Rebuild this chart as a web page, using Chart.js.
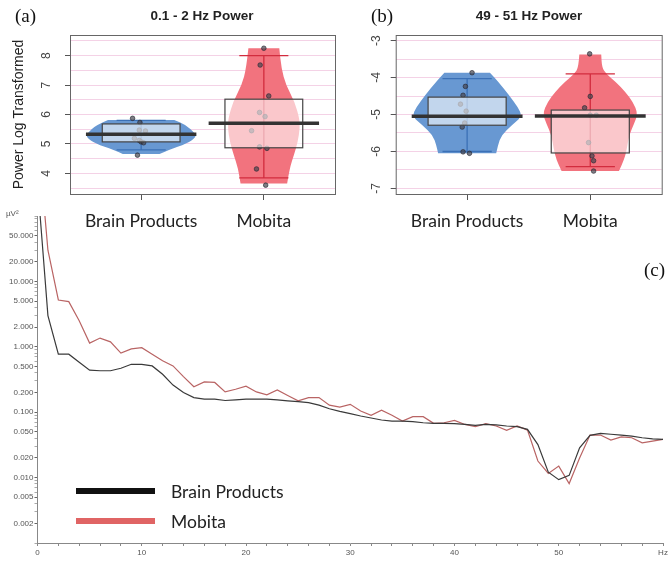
<!DOCTYPE html>
<html lang="en">
<head>
<meta charset="UTF-8">
<title>Power comparison - Brain Products vs Mobita</title>
<script src="https://cdn.jsdelivr.net/npm/chart.js"></script>
<style>
    body {
        margin: 0;
        background: #fff;
        font-family: "Liberation Sans", Arial, sans-serif;
    }
    #page {
        position: relative;
        width: 671px;
        height: 563px;
        overflow: hidden;
        background: #fff;
    }
    canvas {
        position: absolute;
    }
    .tag {
        position: absolute;
        font-family: "Liberation Serif", "Times New Roman", serif;
        font-size: 19px;
        color: #111;
        line-height: 1;
    }
    .title {
        position: absolute;
        font-weight: bold;
        font-size: 13.5px;
        color: #222;
        line-height: 1;
        white-space: nowrap;
        transform: translateX(-50%);
    }
    .legbar {
        position: absolute;
        width: 79px;
        height: 6px;
    }
    .legtxt {
        position: absolute;
        font-family: Lato, "Open Sans", sans-serif;
        font-size: 17.5px;
        color: #222;
        line-height: 1;
    }
    .unit {
        position: absolute;
        font-size: 8px;
        color: #555;
    }
</style>
</head>
<body>
<div id="page">
    <canvas id="chartC" width="671" height="363" style="left:0;top:200px;"></canvas>
    <canvas id="chartA" width="340" height="235" style="left:0;top:0;"></canvas>
    <canvas id="chartB" width="341" height="235" style="left:330px;top:0;"></canvas>

    <div class="tag" style="left:15px;top:6px;">(a)</div>
    <div class="tag" style="left:371px;top:6px;">(b)</div>
    <div class="tag" style="left:644px;top:260px;">(c)</div>
    <div class="title" style="left:202px;top:9px;">0.1 - 2 Hz Power</div>
    <div class="title" style="left:529px;top:9px;">49 - 51 Hz Power</div>
    <div class="unit" style="left:6px;top:209px;">µV²</div>

    <div class="legbar" style="left:76px;top:488px;background:#111;"></div>
    <div class="legtxt" style="left:171px;top:483px;">Brain Products</div>
    <div class="legbar" style="left:76px;top:518px;background:#e06464;"></div>
    <div class="legtxt" style="left:171px;top:513px;">Mobita</div>
</div>

<script>
    // ---- data ----
    const groups = ['Brain Products', 'Mobita'];

    // panel (a) 0.1 - 2 Hz, violin outlines (value levels and half widths in x units)
    const aBpLevels = [4.66, 4.79, 5.02, 5.22, 5.36, 5.64, 5.81];
    const aBpWidths = [0.15, 0.22, 0.375, 0.445, 0.44, 0.367, 0.27];
    const aMoLevels = [3.66, 4.17, 4.62, 5.07, 5.53, 5.87, 6.44, 7.0, 7.57, 8.25];
    const aMoWidths = [0.19, 0.21, 0.245, 0.277, 0.293, 0.29, 0.25, 0.18, 0.143, 0.126];
    // [lower whisker, q1, median, q3, upper whisker]
    const aBpBox = [4.8, 5.07, 5.33, 5.68, 5.8];
    const aMoBox = [3.85, 4.87, 5.70, 6.52, 8.0];
    const aBpDots = [5.87, 5.73, 5.47, 5.44, 5.19, 5.12, 5.07, 5.04, 4.62];
    const aBpJitter = [-0.07, -0.01, -0.015, 0.035, -0.055, -0.015, 0, 0.02, -0.03];
    const aMoDots = [8.25, 7.68, 6.63, 6.07, 5.93, 5.45, 4.9, 4.85, 4.15, 3.6];
    const aMoJitter = [0, -0.03, 0.04, -0.035, 0.01, -0.1, -0.035, 0.025, -0.06, 0.015];
    const aGrid = [3.5, 4, 4.5, 5, 5.5, 6, 6.5, 7, 7.5, 8, 8.5];

    // panel (b) 49 - 51 Hz
    const bBpLevels = [-6.05, -5.83, -5.56, -5.29, -5.05, -4.80, -4.48, -4.12, -3.87];
    const bBpWidths = [0.236, 0.25, 0.278, 0.363, 0.447, 0.413, 0.34, 0.254, 0.185];
    const bMoLevels = [-6.53, -6.23, -5.92, -5.56, -5.25, -4.98, -4.66, -4.39, -4.12, -3.90, -3.72, -3.38];
    const bMoWidths = [0.233, 0.275, 0.298, 0.315, 0.356, 0.386, 0.347, 0.285, 0.209, 0.128, 0.095, 0.089];
    const bBpBox = [-6.0, -5.29, -5.05, -4.53, -4.03];
    const bMoBox = [-6.41, -6.04, -5.04, -4.88, -3.90];
    const bBpDots = [-3.87, -4.24, -4.48, -4.72, -4.91, -5.23, -5.34, -6.01, -6.05];
    const bBpJitter = [0.04, -0.014, -0.033, -0.054, -0.008, -0.02, -0.04, -0.033, 0.019];
    const bMoDots = [-3.36, -4.51, -4.82, -5.02, -5.02, -5.76, -6.12, -6.25, -6.53];
    const bMoJitter = [-0.005, 0, -0.046, 0, 0.049, -0.014, 0.014, 0.027, 0.027];
    const bGrid = [-7, -6.5, -6, -5.5, -5, -4.5, -4, -3.5, -3];

    // panel (c) power spectrum, µV² per Hz
    const hz = [0, 1, 2, 3, 4, 5, 6, 7, 8, 9, 10, 11, 12, 13, 14, 15, 16, 17, 18, 19, 20,
                21, 22, 23, 24, 25, 26, 27, 28, 29, 30, 31, 32, 33, 34, 35, 36, 37, 38, 39, 40,
                41, 42, 43, 44, 45, 46, 47, 48, 49, 50, 51, 52, 53, 54, 55, 56, 57, 58, 59, 60];
    const brainProducts = [330, 3.0, 0.77, 0.77, 0.58, 0.44, 0.43, 0.43, 0.47, 0.54, 0.54,
                0.51, 0.38, 0.26, 0.20, 0.167, 0.158, 0.158, 0.151, 0.154, 0.158,
                0.158, 0.158, 0.154, 0.149, 0.145, 0.14, 0.128, 0.113, 0.103, 0.095,
                0.0875, 0.0815, 0.076, 0.073, 0.073, 0.0718, 0.069, 0.0676, 0.0676, 0.0668,
                0.065, 0.063, 0.065, 0.064, 0.0615, 0.06, 0.0547, 0.032, 0.0121, 0.0093,
                0.0108, 0.0286, 0.0442, 0.0475, 0.046, 0.0447, 0.043, 0.0407, 0.039, 0.0384];
    const mobita = [2000, 30, 5.2, 4.9, 2.5, 1.14, 1.36, 1.19, 0.80, 0.93, 0.97,
                0.77, 0.61, 0.51, 0.35, 0.245, 0.29, 0.285, 0.204, 0.224, 0.25,
                0.204, 0.184, 0.219, 0.18, 0.149, 0.167, 0.167, 0.128, 0.12, 0.132,
                0.104, 0.0896, 0.107, 0.0896, 0.073, 0.0855, 0.0855, 0.0676, 0.069, 0.075,
                0.065, 0.06, 0.067, 0.0615, 0.0527, 0.0615, 0.0533, 0.0179, 0.01155, 0.015,
                0.0081, 0.020, 0.0447, 0.0447, 0.0375, 0.042, 0.0407, 0.034, 0.036, 0.0384];
    const xTicksC = [0, 2, 4, 6, 8, 10, 12, 14, 16, 18, 20, 22, 24, 26, 28, 30,
                32, 34, 36, 38, 40, 42, 44, 46, 48, 50, 52, 54, 56, 58, 60];
    const yLabelsC = [0.002, 0.005, 0.01, 0.02, 0.05, 0.1, 0.2, 0.5, 1, 2, 5, 10, 20, 50];

    const BLUE = '#6898d2', BLUE_DARK = '#3b70b6';
    const RED = '#f2737e', RED_DARK = '#d22c3e';

    // ---- violin / box drawing through the chart scales ----
    function smoothSide(ctx, pts, first) {
        if (first) ctx.moveTo(pts[0][0], pts[0][1]); else ctx.lineTo(pts[0][0], pts[0][1]);
        for (let i = 1; i < pts.length - 1; i++) {
            const mx = (pts[i][0] + pts[i + 1][0]) / 2, my = (pts[i][1] + pts[i + 1][1]) / 2;
            ctx.quadraticCurveTo(pts[i][0], pts[i][1], mx, my);
        }
        const last = pts[pts.length - 1];
        ctx.lineTo(last[0], last[1]);
    }

    const violinPlugin = {
        id: 'violins',
        beforeDatasetsDraw(chart, args, opts) {
            const {ctx, scales: {x, y}} = chart;
            ctx.save();
            opts.groups.forEach(g => {
                const right = g.levels.map((lv, i) => [x.getPixelForValue(g.pos + g.widths[i]), y.getPixelForValue(lv)]);
                const left = g.levels.map((lv, i) => [x.getPixelForValue(g.pos - g.widths[i]), y.getPixelForValue(lv)]).reverse();
                ctx.beginPath();
                smoothSide(ctx, right, true);
                smoothSide(ctx, left, false);
                ctx.closePath();
                ctx.fillStyle = g.fill;
                ctx.fill();

                // whiskers
                const cx = x.getPixelForValue(g.pos);
                ctx.strokeStyle = g.line;
                ctx.lineWidth = 1.3;
                ctx.beginPath();
                ctx.moveTo(cx, y.getPixelForValue(g.box[0]));
                ctx.lineTo(cx, y.getPixelForValue(g.box[4]));
                [g.box[0], g.box[4]].forEach(v => {
                    const py = y.getPixelForValue(v);
                    ctx.moveTo(x.getPixelForValue(g.pos - 0.2), py);
                    ctx.lineTo(x.getPixelForValue(g.pos + 0.2), py);
                });
                ctx.stroke();
            });
            ctx.restore();
        },
        afterDatasetsDraw(chart, args, opts) {
            const {ctx, scales: {x, y}, chartArea} = chart;
            ctx.save();
            opts.groups.forEach(g => {
                const x0 = x.getPixelForValue(g.pos - 0.317), x1 = x.getPixelForValue(g.pos + 0.317);
                const y0 = y.getPixelForValue(g.box[3]), y1 = y.getPixelForValue(g.box[1]);
                ctx.fillStyle = 'rgba(255,255,255,0.6)';
                ctx.fillRect(x0, y0, x1 - x0, y1 - y0);
                ctx.strokeStyle = '#444';
                ctx.lineWidth = 1.2;
                ctx.strokeRect(x0, y0, x1 - x0, y1 - y0);
                const my = y.getPixelForValue(g.box[2]);
                ctx.strokeStyle = '#333';
                ctx.lineWidth = 3.5;
                ctx.beginPath();
                ctx.moveTo(x.getPixelForValue(g.pos - 0.45), my);
                ctx.lineTo(x.getPixelForValue(g.pos + 0.45), my);
                ctx.stroke();
            });
            ctx.strokeStyle = '#666';
            ctx.lineWidth = 1;
            ctx.strokeRect(chartArea.left + 0.5, chartArea.top + 0.5, chartArea.width, chartArea.height);
            ctx.restore();
        }
    };

    function dots(values, jitter, pos) {
        return values.map((v, i) => ({x: pos + jitter[i], y: v}));
    }

    function violinChart(id, cfg) {
        return new Chart(document.getElementById(id), {
            type: 'scatter',
            data: {
                datasets: [
                    {data: dots(cfg.bpDots, cfg.bpJitter, 1)},
                    {data: dots(cfg.moDots, cfg.moJitter, 2)}
                ].map(d => Object.assign(d, {
                    pointRadius: 2.3,
                    pointBackgroundColor: 'rgba(70,70,80,0.7)',
                    pointBorderColor: 'rgba(40,40,50,0.8)',
                    pointBorderWidth: 0.8
                }))
            },
            options: {
                responsive: false,
                animation: false,
                layout: {padding: {top: 35, right: cfg.padRight, left: 0, bottom: 0}},
                plugins: {
                    legend: {display: false},
                    tooltip: {enabled: false},
                    violins: {
                        groups: [
                            {pos: 1, levels: cfg.bpLevels, widths: cfg.bpWidths, box: cfg.bpBox, fill: BLUE, line: BLUE_DARK},
                            {pos: 2, levels: cfg.moLevels, widths: cfg.moWidths, box: cfg.moBox, fill: RED, line: RED_DARK}
                        ]
                    }
                },
                scales: {
                    x: {
                        type: 'linear',
                        min: 0.42,
                        max: 2.58,
                        afterBuildTicks: s => { s.ticks = [{value: 1}, {value: 2}]; },
                        afterFit: s => { s.height = 41; },
                        grid: {drawOnChartArea: false, tickLength: 6, color: '#555'},
                        border: {display: false},
                        ticks: {
                            autoSkip: false,
                            maxRotation: 0,
                            padding: 11,
                            color: '#222',
                            font: {family: 'Lato', size: 17.5},
                            callback: v => groups[Math.round(v) - 1]
                        }
                    },
                    y: {
                        min: cfg.yMin,
                        max: cfg.yMax,
                        afterBuildTicks: s => { s.ticks = cfg.grid.map(v => ({value: v})); },
                        afterFit: s => { s.width = cfg.axisWidth; },
                        grid: {
                            color: '#f4d2e6',
                            tickLength: 5,
                            tickColor: c => Number.isInteger(c.tick.value) ? '#555' : 'rgba(0,0,0,0)'
                        },
                        border: {display: false},
                        ticks: {
                            autoSkip: false,
                            minRotation: 90,
                            maxRotation: 90,
                            crossAlign: 'center',
                            padding: cfg.tickPad,
                            color: '#444',
                            font: {family: 'Liberation Sans', size: 12},
                            callback: v => Number.isInteger(v) ? String(v) : ''
                        },
                        title: {
                            display: !!cfg.yTitle,
                            text: cfg.yTitle || '',
                            color: '#222',
                            font: {family: 'Liberation Sans', size: 14},
                            padding: {top: 11, bottom: 0}
                        }
                    }
                }
            },
            plugins: [violinPlugin]
        });
    }

    violinChart('chartA', {
        bpLevels: aBpLevels, bpWidths: aBpWidths, bpBox: aBpBox, bpDots: aBpDots, bpJitter: aBpJitter,
        moLevels: aMoLevels, moWidths: aMoWidths, moBox: aMoBox, moDots: aMoDots, moJitter: aMoJitter,
        grid: aGrid, yMin: 3.3, yMax: 8.7, axisWidth: 70, tickPad: 15, padRight: 5,
        yTitle: 'Power Log Transformed'
    });

    violinChart('chartB', {
        bpLevels: bBpLevels, bpWidths: bBpWidths, bpBox: bBpBox, bpDots: bBpDots, bpJitter: bBpJitter,
        moLevels: bMoLevels, moWidths: bMoWidths, moBox: bMoBox, moDots: bMoDots, moJitter: bMoJitter,
        grid: bGrid, yMin: -7.15, yMax: -2.85, axisWidth: 65.7, tickPad: 8.5, padRight: 9.3,
        yTitle: ''
    });

    // minor log ticks 1..9 per decade for the spectrum axis
    const yTicksC = [];
    [0.001, 0.01, 0.1, 1, 10].forEach(d => {
        [1, 2, 3, 4, 5, 6, 7, 8, 9].forEach(m => yTicksC.push(+(d * m).toPrecision(3)));
    });
    yTicksC.push(100);
    const isLabel = v => yLabelsC.some(l => Math.abs(l - v) / l < 1e-6);

    new Chart(document.getElementById('chartC'), {
        type: 'line',
        data: {
            datasets: [
                {
                    label: 'Brain Products',
                    data: hz.map((h, i) => ({x: h, y: brainProducts[i]})),
                    borderColor: '#3a3a3a',
                    borderWidth: 1.2,
                    pointRadius: 0,
                    tension: 0
                },
                {
                    label: 'Mobita',
                    data: hz.map((h, i) => ({x: h, y: mobita[i]})),
                    borderColor: '#b96464',
                    borderWidth: 1.2,
                    pointRadius: 0,
                    tension: 0
                }
            ]
        },
        options: {
            responsive: false,
            animation: false,
            layout: {padding: {top: 16, right: 8, left: 0, bottom: 0}},
            plugins: {legend: {display: false}, tooltip: {enabled: false}},
            scales: {
                x: {
                    type: 'linear',
                    min: 0,
                    max: 60,
                    afterBuildTicks: s => { s.ticks = xTicksC.map(v => ({value: v})); },
                    afterFit: s => { s.height = 20; },
                    grid: {drawOnChartArea: false, tickLength: 3, color: '#888'},
                    border: {color: '#888'},
                    ticks: {
                        autoSkip: false,
                        maxRotation: 0,
                        padding: 2,
                        color: '#555',
                        font: {family: 'Liberation Sans', size: 8},
                        callback: v => v === 60 ? 'Hz' : (v % 10 === 0 ? String(v) : '')
                    }
                },
                y: {
                    type: 'logarithmic',
                    min: 0.001,
                    max: 100,
                    afterBuildTicks: s => { s.ticks = yTicksC.map(v => ({value: v})); },
                    afterFit: s => { s.width = 37.5; },
                    grid: {
                        drawOnChartArea: false,
                        tickLength: 3,
                        tickColor: c => isLabel(c.tick.value) ? '#666' : '#aaa'
                    },
                    border: {color: '#888'},
                    ticks: {
                        autoSkip: false,
                        padding: 1,
                        color: '#555',
                        font: {family: 'Liberation Sans', size: 8},
                        callback: v => isLabel(v) ? v.toFixed(3) : ''
                    }
                }
            }
        }
    });
</script>
</body>
</html>
